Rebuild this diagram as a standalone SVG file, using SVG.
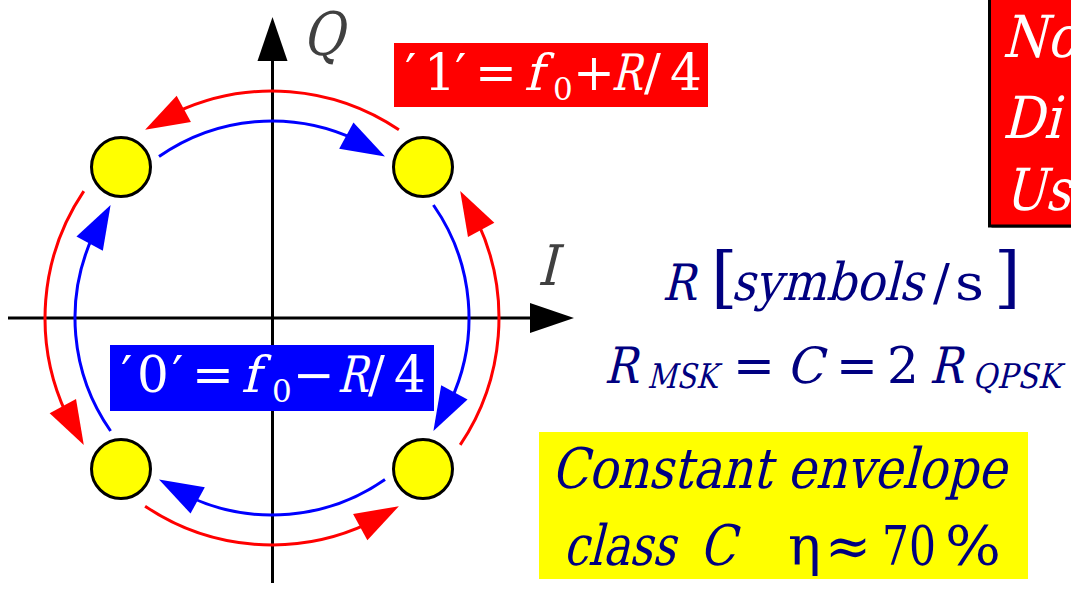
<svg xmlns="http://www.w3.org/2000/svg" xmlns:xlink="http://www.w3.org/1999/xlink" width="1071" height="589" viewBox="0 0 1071 589">
<style>
.ax{stroke:#000;stroke-width:3;fill:none}
.red{stroke:#f00;stroke-width:3;fill:none}
.blue{stroke:#00f;stroke-width:3;fill:none}
.pt{fill:#ff0;stroke:#000;stroke-width:3}
text{font-family:"DejaVu Serif","Noto Serif",serif;font-style:normal}
.w{fill:#fff}
.nv{fill:#000080}
.gr{fill:#404040}
</style>
<defs>
<path id="ah" d="M0,0 L-44,-15 L-44,15 Z"/>
</defs>
<g id="axes">
<line class="ax" x1="272.5" y1="55" x2="272.5" y2="583"/>
<line class="ax" x1="8" y1="318" x2="535" y2="318"/>
<use xlink:href="#ah" transform="translate(272.5,17) rotate(-90)" fill="#000"/>
<use xlink:href="#ah" transform="translate(574,318)" fill="#000"/>
<text class="gr" transform="translate(302,55) skewX(-14)" font-size="60" textLength="41" lengthAdjust="spacingAndGlyphs">Q</text>
<text class="gr" transform="translate(537,285) skewX(-14)" font-size="56" textLength="20" lengthAdjust="spacingAndGlyphs">I</text>
</g>
<g id="connectors">
<path class="red" d="M398.9,129.8 A227,227 0 0 0 176.1,112.3"/>
<path class="red" d="M83.8,191.1 A227,227 0 0 0 66.3,413.9"/>
<path class="red" d="M145.1,506.2 A227,227 0 0 0 367.9,523.7"/>
<path class="red" d="M460.2,444.9 A227,227 0 0 0 477.7,222.1"/>
<use xlink:href="#ah" fill="#f00" transform="translate(145.1,129.8) rotate(151.55)"/>
<use xlink:href="#ah" fill="#f00" transform="translate(83.8,444.9) rotate(61.55)"/>
<use xlink:href="#ah" fill="#f00" transform="translate(398.9,506.2) rotate(-28.45)"/>
<use xlink:href="#ah" fill="#f00" transform="translate(460.2,191.1) rotate(-118.45)"/>
<path class="blue" d="M159.0,156.6 A197,197 0 0 1 355.3,139.5"/>
<path class="blue" d="M433.4,205.0 A197,197 0 0 1 450.5,401.3"/>
<path class="blue" d="M385.0,479.4 A197,197 0 0 1 188.7,496.5"/>
<path class="blue" d="M110.6,431.0 A197,197 0 0 1 93.5,234.7"/>
<use xlink:href="#ah" fill="#00f" transform="translate(385.0,156.6) rotate(28.45)"/>
<use xlink:href="#ah" fill="#00f" transform="translate(433.4,431.0) rotate(118.45)"/>
<use xlink:href="#ah" fill="#00f" transform="translate(159.0,479.4) rotate(-151.55)"/>
<use xlink:href="#ah" fill="#00f" transform="translate(110.6,205.0) rotate(-61.55)"/>
</g>
<g id="point-ul"><circle class="pt" cx="121" cy="167" r="29.5"/></g>
<g id="point-ur"><circle class="pt" cx="423" cy="167" r="29.5"/></g>
<g id="point-ll"><circle class="pt" cx="121" cy="469" r="29.5"/></g>
<g id="point-lr"><circle class="pt" cx="423" cy="469" r="29.5"/></g>
<g id="label-one">
<rect x="394" y="43" width="314" height="64" fill="#f00"/>
<text class="w" font-size="50" y="90"><tspan x="405">′</tspan><tspan x="424">1</tspan><tspan x="455">′</tspan><tspan x="475">=</tspan><tspan x="553" y="100" font-size="31">0</tspan><tspan x="573" y="90">+</tspan><tspan x="644">/</tspan><tspan x="670">4</tspan></text>
<text class="w" transform="translate(524,90) skewX(-14)" font-size="50">f</text>
<text class="w" transform="translate(611,90) skewX(-14)" font-size="50" textLength="30" lengthAdjust="spacingAndGlyphs">R</text>
</g>
<g id="label-zero">
<rect x="110" y="345" width="324" height="66" fill="#00f"/>
<text class="w" font-size="50" y="392"><tspan x="121">′</tspan><tspan x="137">0</tspan><tspan x="172">′</tspan><tspan x="192">=</tspan><tspan x="272" y="402" font-size="31">0</tspan><tspan x="293" y="392">−</tspan><tspan x="368">/</tspan><tspan x="394">4</tspan></text>
<text class="w" transform="translate(241,392) skewX(-14)" font-size="50">f</text>
<text class="w" transform="translate(337,392) skewX(-14)" font-size="50" textLength="30" lengthAdjust="spacingAndGlyphs">R</text>
</g>
<g id="rate">
<text class="nv" transform="translate(662,300) skewX(-14)" font-size="50" textLength="33" lengthAdjust="spacingAndGlyphs">R</text>
<text class="nv" font-size="68" x="711" y="300">[</text>
<text class="nv" transform="translate(731,300) skewX(-14)" font-size="52" textLength="192" lengthAdjust="spacingAndGlyphs">symbols</text>
<text class="nv" font-size="50" x="933" y="300">/</text>
<text class="nv" font-size="50" x="955" y="300" textLength="29" lengthAdjust="spacingAndGlyphs">s</text>
<text class="nv" font-size="68" x="994" y="300">]</text>
<text class="nv" transform="translate(604,383) skewX(-14)" font-size="50" textLength="33" lengthAdjust="spacingAndGlyphs">R</text>
<text class="nv" transform="translate(647,388) skewX(-14)" font-size="34" textLength="70" lengthAdjust="spacingAndGlyphs">MSK</text>
<text class="nv" font-size="50" x="733" y="383">=</text>
<text class="nv" transform="translate(786,383) skewX(-14)" font-size="50" textLength="37" lengthAdjust="spacingAndGlyphs">C</text>
<text class="nv" font-size="50" x="836" y="383">=</text>
<text class="nv" font-size="50" x="887" y="383">2</text>
<text class="nv" transform="translate(929,383) skewX(-14)" font-size="50" textLength="33" lengthAdjust="spacingAndGlyphs">R</text>
<text class="nv" transform="translate(972,388) skewX(-14)" font-size="34" textLength="88" lengthAdjust="spacingAndGlyphs">QPSK</text>
</g>
<g id="envelope">
<rect x="539" y="432" width="489" height="147" fill="#ff0"/>
<text class="nv" transform="translate(551,488) skewX(-14)" font-size="56" textLength="455" lengthAdjust="spacingAndGlyphs">Constant envelope</text>
<text class="nv" transform="translate(563,565) skewX(-14)" font-size="56" textLength="112" lengthAdjust="spacingAndGlyphs">class</text>
<text class="nv" transform="translate(699,565) skewX(-14)" font-size="56" textLength="36" lengthAdjust="spacingAndGlyphs">C</text>
<text class="nv" font-size="55" y="565"><tspan x="788">η</tspan><tspan x="825">≈</tspan></text>
<text class="nv" font-size="55" x="882" y="565" textLength="54" lengthAdjust="spacingAndGlyphs">70</text>
<text class="nv" font-size="55" x="945" y="565" textLength="56" lengthAdjust="spacingAndGlyphs">%</text>
</g>
<g id="note">
<rect x="991.5" y="-3" width="100" height="231" fill="#888"/>
<rect x="989.5" y="-5" width="100" height="231" fill="#f00" stroke="#000" stroke-width="3"/>
<text class="w" transform="translate(1002,57) skewX(-14)" font-size="58" textLength="75" lengthAdjust="spacingAndGlyphs">No</text>
<text class="w" transform="translate(1002,138) skewX(-14)" font-size="58" textLength="58" lengthAdjust="spacingAndGlyphs">Di</text>
<text class="w" transform="translate(1004,210) skewX(-14)" font-size="58" textLength="66" lengthAdjust="spacingAndGlyphs">Us</text>
</g>
</svg>
